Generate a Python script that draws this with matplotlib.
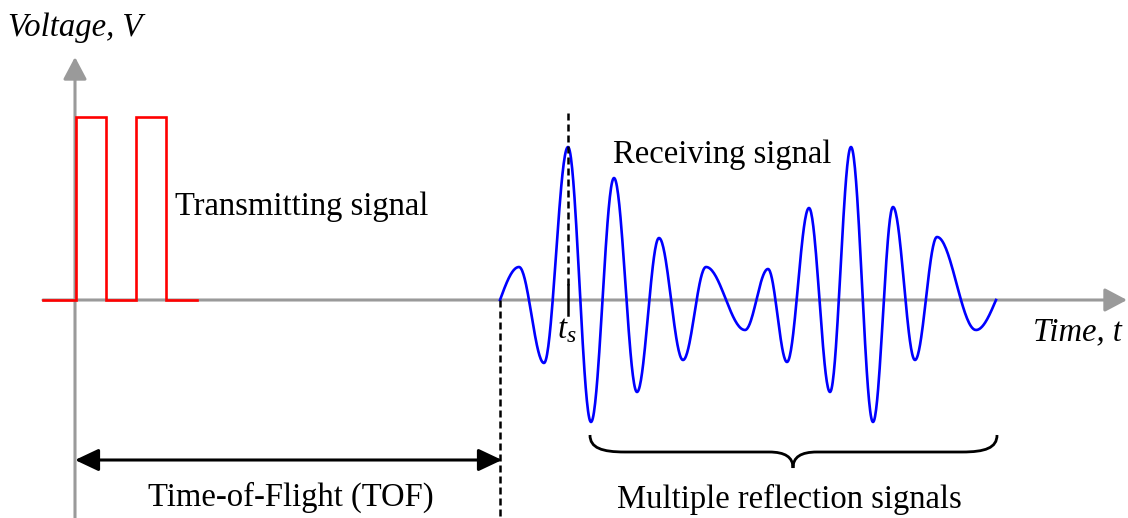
import numpy as np
import matplotlib.pyplot as plt
from matplotlib.path import Path
from matplotlib.patches import PathPatch, FancyArrowPatch

# transmitted pulse train (time, voltage) - two rectangular pulses
tx_time = [-32, 1, 1, 31, 31, 61, 61, 91, 91, 122]
tx_volt = [0, 0, 183, 183, 0, 0, 183, 183, 0, 0]

# received echo: start, successive extrema, end
rx_time = [425, 444, 469, 493, 516, 539, 562, 584, 608, 631, 670,
           693, 712, 734, 755, 776, 798, 818, 840, 862, 901, 921]
rx_volt = [0, 33, -63, 153, -122, 122, -92, 62, -60, 33, -30,
           31, -62, 92, -92, 153, -122, 93, -60, 63, -30, 0]

t_start = 425   # TOF end / echo start
t_s = 493       # marked sample time

GREY = '#9a9a9a'
FONT = 'Liberation Serif'


def smooth_wave(tt, vv, n=40):
    # join extrema with half-cosine arcs (quarter arcs at both ends)
    xs, ys = [], []
    for i in range(len(tt) - 1):
        s = np.linspace(0, 1, n)
        t0, t1, v0, v1 = tt[i], tt[i + 1], vv[i], vv[i + 1]
        if i == 0:
            w = np.sin(np.pi / 2 * s)
        elif i == len(tt) - 2:
            w = 1 - np.cos(np.pi / 2 * s)
        else:
            w = (1 - np.cos(np.pi * s)) / 2
        xs.append(t0 + (t1 - t0) * s)
        ys.append(v0 + (v1 - v0) * w)
    return np.concatenate(xs), np.concatenate(ys)


fig = plt.figure(figsize=(11.28, 5.18), dpi=100)
ax = fig.add_axes([0, 0, 1, 1])
ax.set_xlim(-75, 1053)
ax.set_ylim(-218, 300)
ax.axis('off')

# axes with arrow heads
ax.add_patch(FancyArrowPatch((0, -220), (0, 243), arrowstyle='-|>,head_length=0.68,head_width=0.36',
                             mutation_scale=20, color=GREY, lw=2.2, shrinkA=0, shrinkB=0))
ax.add_patch(FancyArrowPatch((-32, 0), (1052, 0), arrowstyle='-|>,head_length=0.68,head_width=0.36',
                             mutation_scale=20, color=GREY, lw=2.2, shrinkA=0, shrinkB=0))

# signals
ax.plot(tx_time, tx_volt, color='red', lw=1.9, solid_joinstyle='miter')
wx, wy = smooth_wave(rx_time, rx_volt)
ax.plot(wx, wy, color='blue', lw=1.9)

# t_s marker
ax.plot([t_s, t_s], [187, 15], color='black', lw=1.8, ls=(0, (2.8, 1.6)))
ax.plot([t_s, t_s], [15, -15], color='black', lw=1.8)
# TOF end marker
ax.plot([t_start, t_start], [0, -220], color='black', lw=1.8, ls=(0, (2.8, 1.6)))

# TOF double arrow
ax.add_patch(FancyArrowPatch((0, -160), (t_start + 2, -160), arrowstyle='<|-|>,head_length=0.72,head_width=0.34',
                             mutation_scale=20, color='black', lw=2.2, shrinkA=0, shrinkB=0))

# curly brace under the echoes
bl, br, tip = 515, 922, 718
top, mid, low = -135, -152, -168
verts = [(bl, top), (bl, -148), (bl + 12, mid), (bl + 35, mid),
         (tip - 24, mid),
         (tip - 8, mid), (tip, -157), (tip, low),
         (tip, -157), (tip + 8, mid), (tip + 24, mid),
         (br - 35, mid),
         (br - 12, mid), (br, -148), (br, top)]
codes = [Path.MOVETO, Path.CURVE4, Path.CURVE4, Path.CURVE4,
         Path.LINETO,
         Path.CURVE4, Path.CURVE4, Path.CURVE4,
         Path.CURVE4, Path.CURVE4, Path.CURVE4,
         Path.LINETO,
         Path.CURVE4, Path.CURVE4, Path.CURVE4]
ax.add_patch(PathPatch(Path(verts, codes), fill=False, color='black', lw=2.0))

# labels
fs = 23.5
ax.text(-67, 264, 'Voltage, V', family=FONT, style='italic', fontsize=fs, va='baseline', ha='left')
ax.text(100, 85, 'Transmitting signal', family=FONT, fontsize=fs, va='baseline', ha='left')
ax.text(538, 137, 'Receiving signal', family=FONT, fontsize=fs, va='baseline', ha='left')
ax.text(958, -40, 'Time, t', family=FONT, style='italic', fontsize=fs, va='baseline', ha='left')
ax.text(483, -38, 't', family=FONT, style='italic', fontsize=fs, va='baseline', ha='left')
ax.text(492, -42, 's', family=FONT, style='italic', fontsize=17, va='baseline', ha='left')
ax.text(73, -206, 'Time-of-Flight (TOF)', family=FONT, fontsize=fs, va='baseline', ha='left')
ax.text(542, -208, 'Multiple reflection signals', family=FONT, fontsize=fs, va='baseline', ha='left')

fig.savefig('out.png', dpi=100)
